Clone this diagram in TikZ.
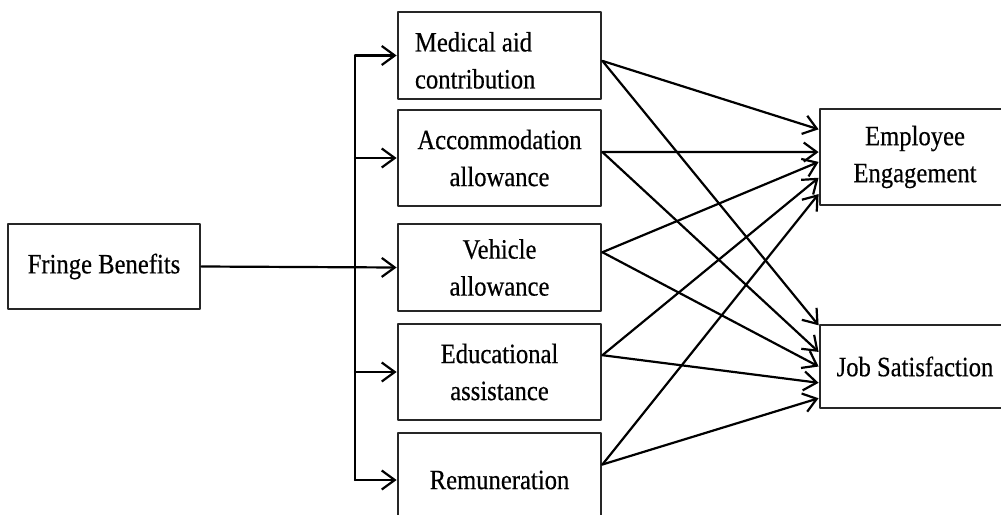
\documentclass[tikz,border=0pt]{standalone}
\usepackage{fontspec}
\setmainfont{Liberation Serif}[FakeStretch=0.88,FakeBold=0.4]
\usetikzlibrary{arrows.meta,calc}

\begin{document}
\begin{tikzpicture}[
  x=0.5pt, y=-0.5pt,
  >={Straight Barb[length=6.5pt,width=9.5pt]},
  line cap=round,
  line join=round,
  every node/.style={font=\fontsize{14}{18.5}\selectfont},
  box/.style={draw=black!85, line width=1.4pt, fill=white, align=center, inner sep=2pt},
  link/.style={->, line width=1.1pt}
]
  \useasboundingbox (0,0) rectangle (1001,514);
  \clip (0,0) rectangle (1001,514);

  % Boxes
  \node[box, minimum width=96pt, minimum height=42.5pt] (fringe) at (104,266.5) {Fringe Benefits};

  \node[box, minimum width=101.5pt, minimum height=43.5pt, align=flush left,
        text width=84.5pt, inner xsep=8.5pt] (med) at (499.5,55.5)
        {\rule{0pt}{14.6pt}Medical aid\\contribution};
  \node[box, minimum width=101.5pt, minimum height=48pt] (acc) at (499.5,158) {Accommodation\\allowance};
  \node[box, minimum width=101.5pt, minimum height=43.5pt] (veh) at (499.5,267.5) {Vehicle\\allowance};
  \node[box, minimum width=101.5pt, minimum height=48pt] (edu) at (499.5,372) {Educational\\assistance};
  \node[box, minimum width=101.5pt, minimum height=47pt] (rem) at (499.5,480) {Remuneration};

  \node[box, minimum width=95pt, minimum height=48pt] (emp) at (915,157) {Employee\\Engagement};
  \node[box, minimum width=95pt, minimum height=41.5pt] (job) at (915,366.5) {Job Satisfaction};

  % Fringe benefits to each benefit
  \coordinate (bus) at (355,266);
  \draw[line width=1.1pt] (bus |- med.west) -- (bus |- rem.west);
  \draw[link] (fringe.east) -- (veh.west);
  \foreach \m in {med,acc,edu,rem}{\draw[link] (bus |- \m.west) -- (\m.west);}

  % Each benefit to both outcomes
  \foreach \m/\f/\e/\j in {med/0.56/0.22/0.02, acc/0.44/0.45/0.33, veh/0.33/0.55/0.5,
                           edu/0.33/0.71/0.69, rem/0.34/0.875/0.87}{
    \coordinate (\m-out) at ($(\m.north east)!\f!(\m.south east)$);
    \draw[link] (\m-out) -- ($(emp.north west)!\e!(emp.south west)$);
    \draw[link] (\m-out) -- ($(job.north west)!\j!(job.south west)$);
  }
\end{tikzpicture}
\end{document}
